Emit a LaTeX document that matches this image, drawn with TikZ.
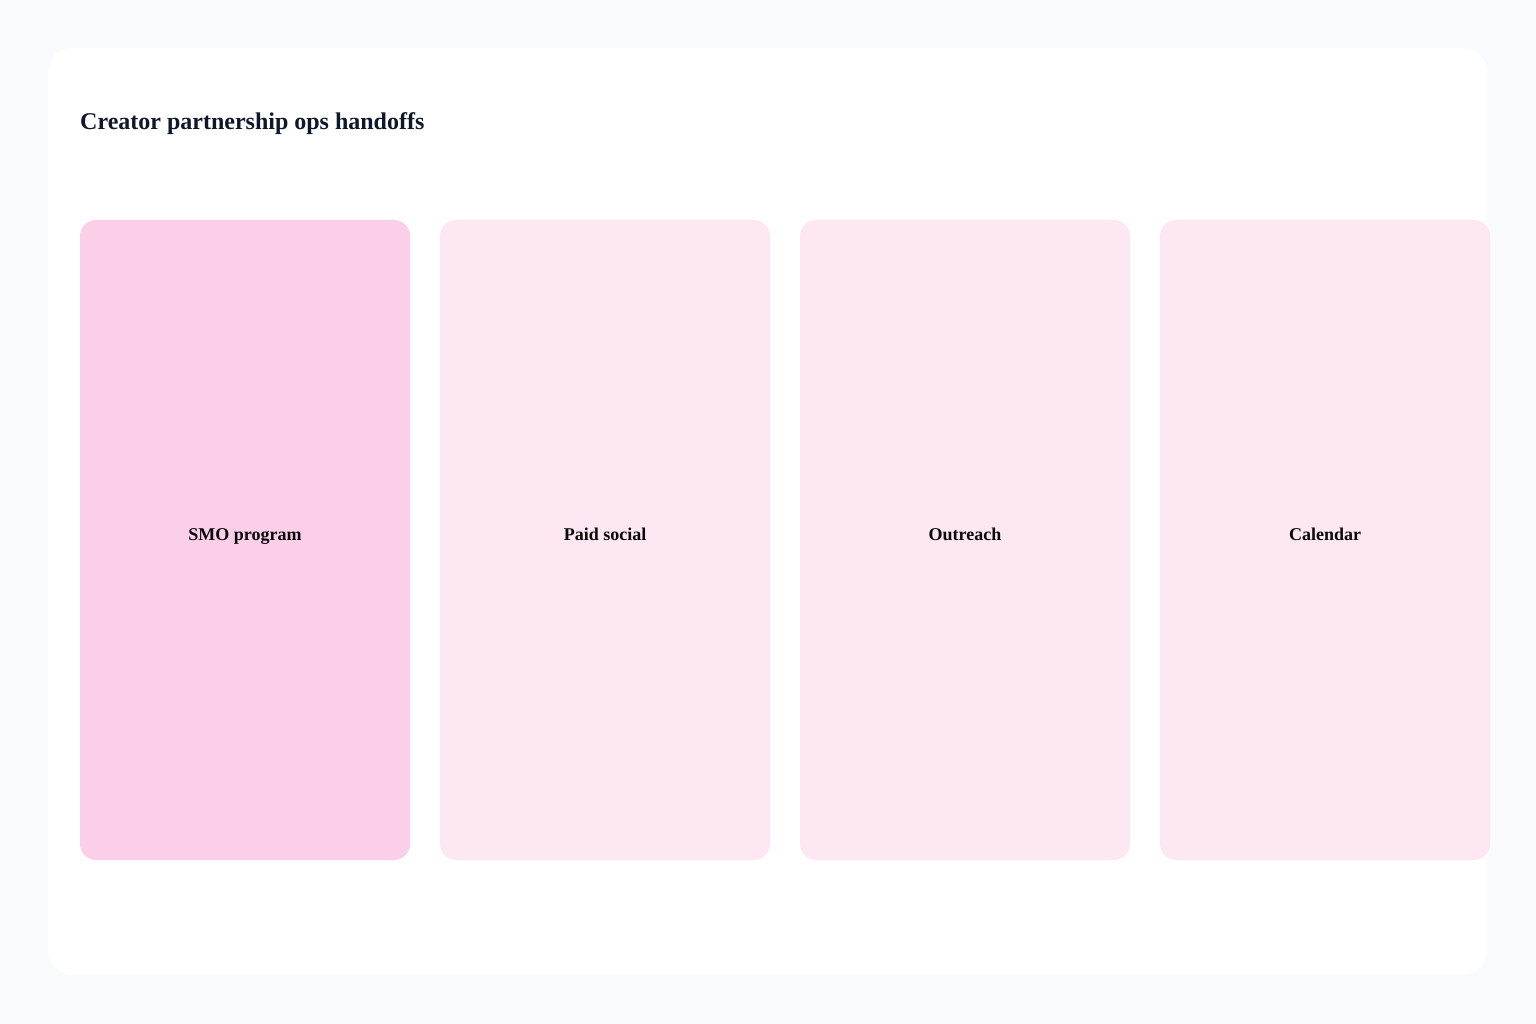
\documentclass[tikz,border=0pt]{standalone}
\usepackage{fontspec}
\setmainfont{Liberation Serif}
\definecolor{pagebg}{HTML}{F8FAFC}
\definecolor{titlec}{HTML}{0F172A}
\definecolor{laneA}{HTML}{FBCFE8}
\definecolor{laneB}{HTML}{FCE7F3}
\definecolor{labc}{HTML}{0A0A0A}
\begin{document}
\begin{tikzpicture}[x=1pt,y=-1pt,
  lane/.style={draw=none,rounded corners=16pt,minimum width=330pt,minimum height=640pt,inner sep=0pt},
  lanelabel/.style={font=\fontsize{18}{21}\selectfont\bfseries,text=labc,anchor=base,inner sep=0pt},
  ]
\useasboundingbox (0,0) rectangle (1536,1024);
\fill[pagebg] (0,0) rectangle (1536,1024);
\fill[white,rounded corners=24pt] (48,48) rectangle (1487,975);
\node[anchor=base west,font=\fontsize{24}{28}\selectfont\bfseries,text=titlec,inner sep=0pt] (title) at (80,130) {Creator partnership ops handoffs};
\node[lane,fill=laneA] (smo) at (245,540) {};
\node[lane,fill=laneB] (paid) at (605,540) {};
\node[lane,fill=laneB] (out) at (965,540) {};
\node[lane,fill=laneB] (cal) at (1325,540) {};
\node[lanelabel] (smol) at (245,540) {SMO program};
\node[lanelabel] (paidl) at (605,540) {Paid social};
\node[lanelabel] (outl) at (965,540) {Outreach};
\node[lanelabel] (call) at (1325,540) {Calendar};
\end{tikzpicture}
\end{document}
